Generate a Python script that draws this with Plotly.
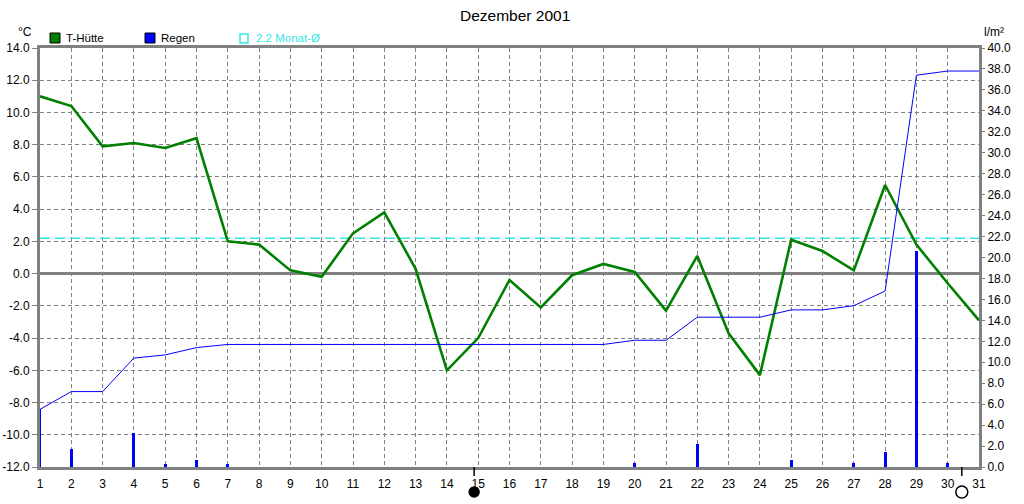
import numpy as np
import plotly.graph_objects as go

days = list(range(1, 32))
temp = [11.0, 10.4, 7.9, 8.1, 7.8, 8.4, 2.0, 1.8, 0.2, -0.2, 2.5, 3.8, 0.3, -6.0, -4.0,
        -0.4, -2.1, -0.1, 0.6, 0.1, -2.3, 1.1, -3.7, -6.3, 2.1, 1.4, 0.2, 5.5, 1.8, -0.6, -2.9]
rain = [5.5, 1.7, 0.0, 3.2, 0.3, 0.7, 0.3, 0.0, 0.0, 0.0, 0.0, 0.0, 0.0, 0.0, 0.0,
        0.0, 0.0, 0.0, 0.0, 0.4, 0.0, 2.2, 0.0, 0.0, 0.7, 0.0, 0.4, 1.4, 20.6, 0.4, 0.0]
rain_cum = list(np.cumsum(rain))
month_mean = 2.2
moon_days = [14.87, 30.45]
moon_filled = [True, False]

title = "Dezember 2001"
temp_ticks = list(range(-12, 15, 2))
rain_ticks = list(range(0, 41, 2))

W, H = 1024, 504
L, R, T, B = 40, 979, 48, 467
def px(x):
    return (x - L) / (R - L)
def py(y):
    return (B - y) / (B - T)

FONT = "Liberation Sans, Arial, sans-serif"
GRAY = "#808080"
CYAN = "#33e6e6"

fig = go.Figure()

fig.add_trace(go.Scatter(x=[days[0], days[-1]], y=[month_mean, month_mean], mode="lines",
                         line=dict(color=CYAN, width=1.5, dash="10px,5px"),
                         hoverinfo="skip", showlegend=False))
fig.add_trace(go.Scatter(x=days, y=temp, mode="lines", line=dict(color="#008000", width=2.6),
                         name="T-Hütte", showlegend=False))
fig.add_trace(go.Bar(x=days, y=rain, width=0.09, marker=dict(color="#0000ff", line=dict(width=0)),
                     yaxis="y2", name="Regen", showlegend=False))
fig.add_trace(go.Scatter(x=days, y=rain_cum, mode="lines", line=dict(color="#0000ff", width=1),
                         yaxis="y2", showlegend=False))

fig.update_layout(
    width=W, height=H,
    margin=dict(l=L, r=W - R, t=T, b=H - B, pad=0, autoexpand=False),
    paper_bgcolor="white", plot_bgcolor="white",
    font=dict(family=FONT, size=12, color="black"),
    bargap=0,
    xaxis=dict(range=[1, 31], tickvals=days, ticktext=[str(d) for d in days],
               showgrid=True, gridcolor=GRAY, griddash="4px,3px", gridwidth=1,
               showline=True, linecolor=GRAY, linewidth=3, mirror=True,
               ticks="outside", ticklen=4, tickcolor="rgba(0,0,0,0)",
               zeroline=False, tickfont=dict(size=12), automargin=False),
    yaxis=dict(range=[-12, 14], tickvals=temp_ticks, ticktext=[f"{v:.1f}" for v in temp_ticks],
               showgrid=True, gridcolor=GRAY, griddash="4px,3px", gridwidth=1,
               showline=True, linecolor=GRAY, linewidth=3, mirror=True,
               ticks="outside", ticklen=5, tickcolor=GRAY,
               zeroline=True, zerolinecolor=GRAY, zerolinewidth=2.5,
               tickfont=dict(size=12), automargin=False),
    yaxis2=dict(range=[0, 40], tickvals=rain_ticks, ticktext=[f"{v:.1f}" for v in rain_ticks],
                overlaying="y", side="right", showgrid=False, zeroline=False,
                showline=False, ticks="outside", ticklen=5, tickcolor=GRAY,
                tickfont=dict(size=12), automargin=False),
)

def ann(text, x, y, anchor="left", size=11.5, color="black"):
    return dict(text=text, x=px(x), y=py(y), xref="paper", yref="paper", xanchor=anchor,
                yanchor="middle", showarrow=False, font=dict(size=size, color=color))

annotations = [
    ann(title, 515, 16, "center", 15.5),
    ann("°C", 25, 32, "center", 12),
    ann("l/m²", 994, 32, "center", 12),
    ann("T-Hütte", 64, 38),
    ann("Regen", 159, 38),
    ann(f"{month_mean} Monat-Ø", 254, 38, color=CYAN),
]
fig.update_layout(annotations=annotations)

shapes = [
    dict(type="rect", xref="paper", yref="paper", x0=px(50), x1=px(60), y0=py(43), y1=py(33),
         fillcolor="#008000", line=dict(color="black", width=1)),
    dict(type="rect", xref="paper", yref="paper", x0=px(145), x1=px(155), y0=py(43), y1=py(33),
         fillcolor="#0000ff", line=dict(color="black", width=1)),
    dict(type="rect", xref="paper", yref="paper", x0=px(240), x1=px(248), y0=py(43), y1=py(34),
         fillcolor="rgba(0,0,0,0)", line=dict(color=CYAN, width=1.5)),
]
for d, filled in zip(moon_days, moon_filled):
    r = 5 if filled else 6
    shapes.append(dict(type="line", xref="x", yref="paper", x0=d, x1=d,
                       y0=py(467), y1=py(476), line=dict(color="black", width=1.5)))
    shapes.append(dict(type="circle", xref="x", yref="paper",
                       xsizemode="pixel", xanchor=d, x0=-r, x1=r,
                       ysizemode="pixel", yanchor=py(492), y0=-r, y1=r,
                       fillcolor="black" if filled else "rgba(0,0,0,0)",
                       line=dict(color="black", width=1.5)))
fig.update_layout(shapes=shapes)

fig.write_html("out.html")
